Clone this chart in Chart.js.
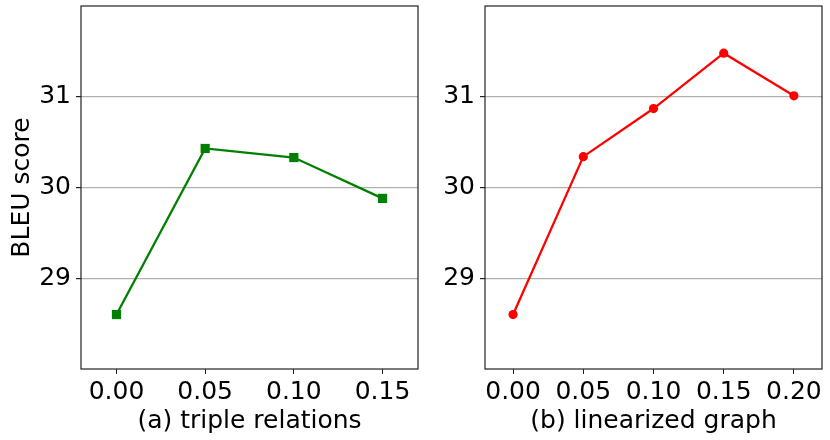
<!DOCTYPE html>
<html>
<head>
<meta charset="utf-8">
<script src="https://cdn.jsdelivr.net/npm/chart.js@4"></script>
<style>
html, body { margin: 0; padding: 0; background: #fff; }
#wrap { position: relative; width: 830px; height: 440px; }
.panel { position: absolute; top: 0; height: 440px; }
</style>
</head>
<body>
<div id="wrap">
  <div class="panel" style="left:0;width:420px"><canvas id="chartA" width="420" height="440"></canvas></div>
  <div class="panel" style="left:420px;width:410px"><canvas id="chartB" width="410" height="440"></canvas></div>
</div>
<script>
// values
const yTicks = [29, 30, 31];
const tripleX = [0.00, 0.05, 0.10, 0.15];
const tripleBleu = [28.60, 30.43, 30.33, 29.88];
const linearX = [0.00, 0.05, 0.10, 0.15, 0.20];
const linearBleu = [28.60, 30.34, 30.87, 31.48, 31.01];

const fontFamily = "'DejaVu Sans', sans-serif";
const labelFont = { family: fontFamily, size: 25 };
Chart.defaults.font.family = fontFamily;
Chart.defaults.font.size = 25;
Chart.defaults.color = '#000';

// draws the full frame around the plot area
const frame = {
    id: 'frame',
    afterDraw(chart) {
        const a = chart.chartArea;
        const ctx = chart.ctx;
        ctx.save();
        ctx.strokeStyle = '#222';
        ctx.lineWidth = 1.2;
        ctx.strokeRect(a.left, a.top, a.right - a.left, a.bottom - a.top);
        ctx.restore();
    }
};

function makeChart(id, xs, ys, o) {
    const ctx = document.getElementById(id);
    return new Chart(ctx, {
        type: 'line',
        data: {
            datasets: [{
                data: xs.map((x, i) => ({ x: x, y: ys[i] })),
                borderColor: o.color,
                backgroundColor: o.color,
                borderWidth: 2.3,
                pointStyle: o.marker,
                pointRadius: o.radius,
                pointBorderWidth: 0,
                tension: 0
            }]
        },
        options: {
            responsive: false,
            animation: false,
            events: [],
            layout: { autoPadding: false, padding: { top: 6, right: o.padRight, left: 0, bottom: 0 } },
            plugins: { legend: { display: false }, tooltip: { enabled: false } },
            scales: {
                x: {
                    type: 'linear',
                    min: -0.02,
                    max: o.xMax,
                    afterBuildTicks: s => { s.ticks = xs.map(v => ({ value: v })); },
                    afterFit: s => { s.height = 71; s.paddingLeft = 0; s.paddingRight = 0; },
                    grid: { drawOnChartArea: false, drawTicks: true, tickLength: 5, tickColor: '#222' },
                    border: { display: false },
                    ticks: { padding: 3, font: labelFont, callback: v => Number(v).toFixed(2), maxRotation: 0, autoSkip: false },
                    title: { display: true, text: o.xTitle, font: labelFont, padding: { top: 0, bottom: 4 } }
                },
                y: {
                    type: 'linear',
                    min: 28,
                    max: 32,
                    afterBuildTicks: s => { s.ticks = yTicks.map(v => ({ value: v })); },
                    afterFit: s => { s.width = o.yWidth; s.paddingTop = 0; s.paddingBottom = 0; },
                    grid: { color: '#b0b0b0', lineWidth: 1.2, tickColor: '#222', tickLength: 5 },
                    border: { display: false },
                    ticks: { padding: 5, font: labelFont },
                    title: { display: !!o.yTitle, text: o.yTitle, font: labelFont, padding: { top: 7, bottom: 0 } }
                }
            }
        },
        plugins: [frame]
    });
}

makeChart('chartA', tripleX, tripleBleu, {
    color: '#008000', marker: 'rect', radius: 6.5,
    xMax: 0.17, xTitle: '(a) triple relations', yTitle: 'BLEU score',
    yWidth: 81, padRight: 2
});

makeChart('chartB', linearX, linearBleu, {
    color: '#ff0000', marker: 'circle', radius: 4.6,
    xMax: 0.22, xTitle: '(b) linearized graph', yTitle: '',
    yWidth: 65, padRight: 8
});
</script>
</body>
</html>
